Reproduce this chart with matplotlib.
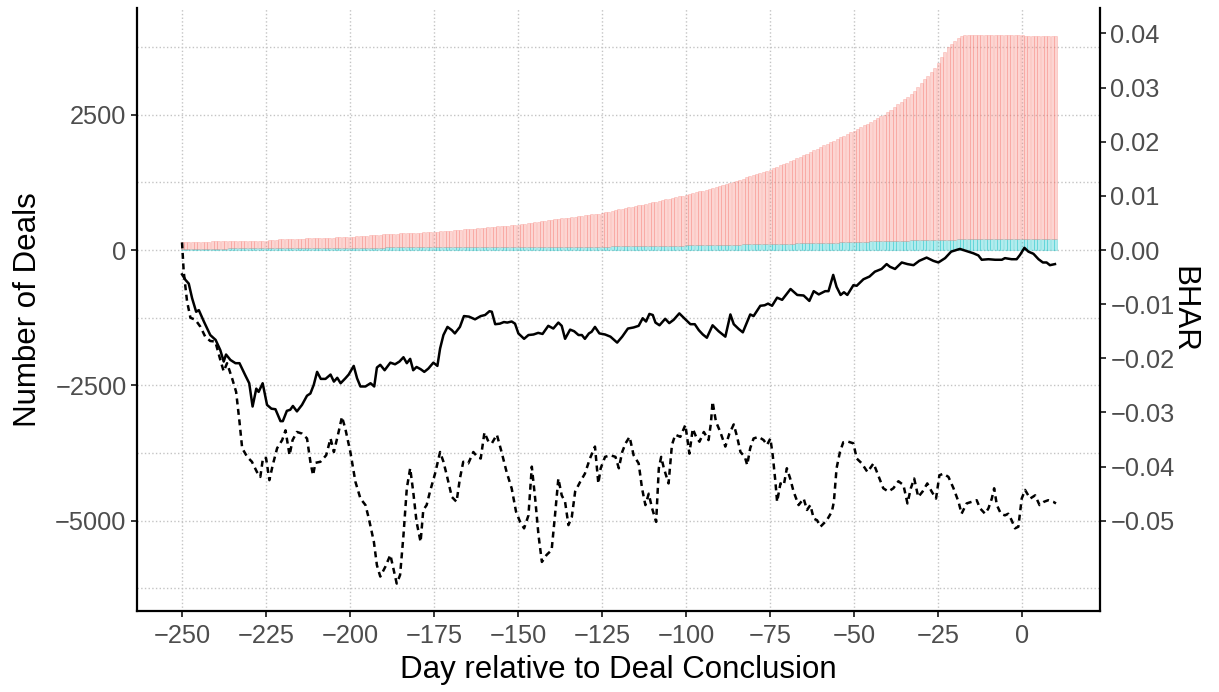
import matplotlib
matplotlib.use('Agg')
import matplotlib.pyplot as plt
from matplotlib.ticker import FuncFormatter, MultipleLocator

plt.rcParams['font.family'] = ['Liberation Sans', 'DejaVu Sans']

# days relative to deal conclusion (one bar per day)
days = list(range(-250, 11))

# total number of deals per day (top of the stacked bars)
deals_total = [
    145, 146, 148, 149, 151, 152, 154, 155, 157, 158,
    160, 161, 163, 164, 166, 167, 169, 170, 172, 173,
    173, 174, 174, 175, 175, 175, 180, 185, 190, 195,
    198, 201, 203, 205, 207, 210, 212, 214, 217, 219,
    221, 223, 225, 227, 229, 231, 233, 235, 237, 238,
    240, 245, 250, 254, 259, 264, 268, 273, 278, 282,
    287, 292, 296, 299, 302, 305, 308, 310, 313, 316,
    318, 321, 324, 327, 330, 333, 338, 343, 348, 353,
    358, 363, 369, 374, 379, 384, 389, 394, 400, 406,
    411, 417, 423, 429, 435, 440, 446, 452, 458, 463,
    469, 478, 486, 495, 504, 512, 521, 530, 538, 547,
    556, 565, 573, 582, 590, 598, 607, 615, 623, 631,
    640, 648, 657, 665, 674, 685, 698, 710, 723, 736,
    749, 762, 775, 788, 799, 813, 826, 840, 853, 867,
    880, 894, 908, 922, 935, 949, 963, 977, 990, 1005,
    1019, 1034, 1050, 1066, 1081, 1097, 1113, 1128, 1144, 1160,
    1180, 1200, 1220, 1240, 1260, 1280, 1300, 1320, 1340, 1360,
    1380, 1400, 1420, 1440, 1460, 1481, 1508, 1535, 1562, 1589,
    1616, 1643, 1670, 1697, 1724, 1751, 1778, 1808, 1839, 1869,
    1900, 1930, 1961, 1991, 2022, 2052, 2083, 2113, 2143, 2174,
    2204, 2237, 2270, 2303, 2336, 2369, 2401, 2434, 2467, 2500,
    2547, 2594, 2641, 2688, 2735, 2782, 2829, 2876, 2940, 3010,
    3080, 3150, 3220, 3290, 3360, 3457, 3556, 3655, 3753, 3810,
    3866, 3920, 3945, 3963, 3963, 3963, 3963, 3963, 3963, 3963,
    3963, 3963, 3963, 3963, 3963, 3963, 3963, 3963, 3963, 3963,
    3963,
    3944, 3944, 3944, 3944, 3944, 3944, 3944, 3944, 3944, 3944,
]

# second group (cyan, bottom of the stack)
deals_cyan = [
    20, 20, 20, 20, 20, 20, 20, 20, 20, 20,
    20, 20, 20, 20, 42, 42, 42, 42, 42, 42,
    42, 42, 42, 42, 42, 42, 42, 42, 42, 42,
    42, 42, 42, 42, 42, 42, 42, 42, 42, 42,
    42, 42, 42, 42, 42, 42, 42, 42, 42, 42,
    42, 42, 42, 42, 42, 42, 42, 42, 42, 42,
    42, 48, 48, 48, 48, 48, 48, 48, 48, 48,
    48, 48, 48, 48, 48, 48, 48, 48, 48, 48,
    48, 48, 48, 48, 48, 48, 48, 48, 48, 48,
    48, 55, 55, 55, 55, 55, 55, 55, 55, 55,
    55, 55, 55, 55, 55, 55, 55, 55, 55, 55,
    55, 55, 55, 55, 55, 55, 55, 55, 55, 55,
    55, 55, 55, 55, 55, 55, 55, 55, 74, 74,
    74, 74, 74, 74, 74, 74, 74, 74, 74, 74,
    74, 74, 74, 74, 74, 74, 74, 74, 74, 74,
    92, 92, 92, 92, 92, 92, 92, 92, 92, 92,
    92, 92, 92, 92, 92, 92, 92, 111, 111, 111,
    111, 111, 111, 111, 111, 111, 111, 111, 111, 111,
    111, 111, 111, 130, 130, 130, 130, 130, 130, 130,
    130, 130, 130, 130, 130, 130, 148, 148, 148, 148,
    148, 148, 148, 148, 148, 166, 166, 166, 166, 166,
    166, 166, 166, 166, 166, 166, 166, 185, 185, 185,
    185, 185, 185, 185, 185, 185, 185, 185, 185, 185,
    185, 204, 204, 204, 204, 204, 204, 204, 204, 204,
    204, 204, 204, 204, 204, 204, 204, 204, 204, 204,
    204, 204, 204, 204, 204, 204, 204, 204, 204, 204,
    204,
]

# BHAR, solid line
solid_day = [
    -250, -249, -248, -247, -245.8, -245, -243.5, -241.6, -240, -238.6,
    -237.6, -236.9, -235.6, -234.1, -232.9, -231.2, -230, -229, -227.9, -227.2,
    -226, -224.7, -223.4, -222.2, -220.7, -220, -218.8, -217.8, -217, -215.8,
    -214.3, -212.8, -211.8, -210.8, -209.8, -208.7, -207.3, -205.8, -204.8, -203.8,
    -202.8, -201.4, -200.4, -198.9, -197.9, -196.9, -195.4, -193.9, -192.8, -192,
    -191, -189.7, -188, -186.6, -185.3, -184.1, -183.1, -182.1, -181.2, -180.2,
    -179, -177.9, -176.7, -175.2, -174, -173.2, -172.2, -171, -169.7, -168.8,
    -167.3, -166.1, -164.6, -162.8, -161.1, -159.8, -158.5, -157.8, -156.8, -155.4,
    -154.2, -153.2, -151.9, -150.9, -149.9, -148.2, -146.9, -145.4, -144, -142.7,
    -141, -139.5, -138, -137, -136, -134.5, -133.3, -132, -131, -130.1,
    -128.9, -128.1, -127.1, -125.8, -124.1, -122.5, -120.5, -119, -117.3, -115.6,
    -114.1, -112.9, -111.9, -110.9, -109.9, -109.1, -107.9, -106.2, -105, -103.7,
    -102, -100.7, -98.7, -97.4, -96.2, -95, -93.8, -92.1, -90.3, -88.3,
    -86.8, -85.8, -84.3, -83.1, -80.9, -79.9, -77.9, -76.6, -75.6, -74.4,
    -72.9, -71.4, -68.9, -66.9, -65, -63.3, -62, -60.5, -58.6, -57.6,
    -56.2, -55.2, -54, -53, -52, -50.2, -49.2, -47.2, -45.4, -43.8,
    -41.8, -40.3, -39.3, -37.8, -35.8, -34.1, -32.3, -30.6, -28.4, -26.4,
    -24.9, -22.9, -21.1, -18.5, -16.5, -14.5, -13, -12, -10, -8,
    -6, -5.1, -3.1, -1.6, -0.6, 0.7, 1.9, 3.4, 4.9, 6.2,
    7.3, 8.3, 9.8,
]
solid_bhar = [
    -0.0045, -0.0055, -0.0062, -0.0089, -0.0114, -0.0111, -0.0132, -0.0157, -0.0166, -0.0185,
    -0.0206, -0.0193, -0.0203, -0.0209, -0.0209, -0.0231, -0.0246, -0.0289, -0.0256, -0.0262,
    -0.0246, -0.0286, -0.0293, -0.0294, -0.0316, -0.0316, -0.0297, -0.0295, -0.0288, -0.0298,
    -0.0286, -0.0269, -0.0265, -0.0249, -0.0225, -0.0238, -0.0238, -0.0230, -0.0243, -0.0236,
    -0.0246, -0.0237, -0.0230, -0.0214, -0.0237, -0.0252, -0.0252, -0.0246, -0.0252, -0.0217,
    -0.0212, -0.0222, -0.0208, -0.0211, -0.0206, -0.0198, -0.0209, -0.0201, -0.0222, -0.0216,
    -0.0220, -0.0225, -0.0219, -0.0208, -0.0214, -0.0182, -0.0157, -0.0142, -0.0148, -0.0154,
    -0.0142, -0.0122, -0.0123, -0.0128, -0.0122, -0.0120, -0.0113, -0.0114, -0.0137, -0.0136,
    -0.0133, -0.0134, -0.0132, -0.0136, -0.0154, -0.0164, -0.0157, -0.0156, -0.0153, -0.0155,
    -0.0140, -0.0145, -0.0134, -0.0140, -0.0164, -0.0147, -0.0150, -0.0157, -0.0157, -0.0164,
    -0.0154, -0.0151, -0.0142, -0.0154, -0.0156, -0.0160, -0.0171, -0.0160, -0.0145, -0.0143,
    -0.0140, -0.0126, -0.0132, -0.0118, -0.0120, -0.0134, -0.0139, -0.0127, -0.0135, -0.0129,
    -0.0117, -0.0125, -0.0137, -0.0137, -0.0148, -0.0156, -0.0162, -0.0139, -0.0150, -0.0160,
    -0.0119, -0.0137, -0.0146, -0.0152, -0.0119, -0.0122, -0.0103, -0.0102, -0.0099, -0.0103,
    -0.0088, -0.0092, -0.0072, -0.0083, -0.0084, -0.0094, -0.0076, -0.0082, -0.0076, -0.0076,
    -0.0046, -0.0068, -0.0083, -0.0078, -0.0083, -0.0065, -0.0066, -0.0054, -0.0049, -0.0040,
    -0.0035, -0.0026, -0.0031, -0.0035, -0.0023, -0.0026, -0.0028, -0.0020, -0.0014, -0.0020,
    -0.0023, -0.0015, -0.0003, 0.0002, -0.0002, -0.0006, -0.0010, -0.0018, -0.0017, -0.0018,
    -0.0018, -0.0015, -0.0017, -0.0017, -0.0009, 0.0004, -0.0003, -0.0007, -0.0017, -0.0023,
    -0.0023, -0.0028, -0.0026,
]

# BHAR, dashed line
dash_day = [
    -250, -249.5, -248.5, -247.5, -246, -244.5, -243.1, -241.6, -240.1, -238.6,
    -237.6, -236.6, -235.1, -233.9, -232.9, -232.1, -230.6, -229.2, -227.7, -226.7,
    -225.9, -225, -224, -223, -221.7, -220.2, -219.2, -218, -217.1, -215.8,
    -214.3, -212.8, -211.8, -211, -210.3, -208.8, -207.1, -205.8, -204.8, -203.4,
    -202.4, -201.4, -199.9, -198.4, -196.9, -195.4, -194.4, -192.9, -192, -191,
    -189.5, -188, -187.1, -186.1, -185.1, -184.1, -183.1, -182.1, -181.2, -180.2,
    -179, -178.2, -177.2, -176.2, -174.7, -173.2, -172.2, -171.2, -169.7, -168.3,
    -167.3, -166.3, -164.8, -163.3, -162.1, -161.1, -160, -158.8, -157.8, -156.3,
    -154.9, -153.4, -151.9, -150.6, -149.4, -148.2, -146.9, -145.9, -144.9, -143.9,
    -142.9, -141.5, -140, -139, -138, -137, -136, -135, -134, -133,
    -131.5, -130.1, -128.6, -127.1, -126.1, -125.4, -124.1, -122.5, -121, -120,
    -119, -118, -116.8, -115.6, -114.1, -113.1, -112.1, -111.1, -110.1, -108.9,
    -108.1, -107.4, -106.6, -105.2, -104.2, -103.2, -101.7, -100.2, -99, -98,
    -97, -96, -94.7, -93.3, -92.6, -92.1, -91.1, -89.8, -88.3, -87.1,
    -85.8, -84.8, -83.8, -82.5, -81.8, -80.9, -79.9, -78.4, -76.9, -75.9,
    -74.9, -74.2, -73.4, -72.9, -71.9, -70.9, -70, -69, -68, -66.5,
    -65, -64, -63, -62, -61, -60, -58.1, -56.6, -56, -55.2,
    -54.2, -53.2, -51.7, -50.2, -49.2, -47.7, -46, -44.2, -42.8, -41.3,
    -39.8, -38.3, -36.8, -35.3, -34.1, -33.1, -32.1, -30.9, -29.6, -28.2,
    -26.9, -25.6, -24.6, -23.4, -21.9, -20.4, -18.9, -18, -16.5, -15,
    -13.5, -12.5, -11, -10, -9, -8.3, -7.5, -6.3, -5.1, -4.1,
    -3.1, -2.1, -1.1, -0.1, 0.9, 2.4, 3.9, 5.2, 6.5, 7.8,
    9.3, 10.1,
]
dash_bhar = [
    0.0014, -0.0040, -0.0095, -0.0125, -0.0129, -0.0142, -0.0160, -0.0168, -0.0169, -0.0203,
    -0.0224, -0.0209, -0.0237, -0.0262, -0.0317, -0.0366, -0.0382, -0.0391, -0.0410, -0.0419,
    -0.0384, -0.0384, -0.0425, -0.0397, -0.0366, -0.0351, -0.0333, -0.0379, -0.0351, -0.0336,
    -0.0339, -0.0348, -0.0391, -0.0416, -0.0393, -0.0391, -0.0379, -0.0348, -0.0373, -0.0336,
    -0.0308, -0.0330, -0.0373, -0.0428, -0.0459, -0.0471, -0.0496, -0.0539, -0.0582, -0.0603,
    -0.0585, -0.0563, -0.0588, -0.0616, -0.0600, -0.0527, -0.0440, -0.0403, -0.0446, -0.0502,
    -0.0539, -0.0480, -0.0471, -0.0446, -0.0413, -0.0373, -0.0391, -0.0416, -0.0456, -0.0465,
    -0.0422, -0.0391, -0.0394, -0.0373, -0.0382, -0.0385, -0.0337, -0.0354, -0.0357, -0.0341,
    -0.0373, -0.0410, -0.0440, -0.0483, -0.0502, -0.0514, -0.0490, -0.0400, -0.0459, -0.0527,
    -0.0576, -0.0563, -0.0554, -0.0490, -0.0422, -0.0453, -0.0465, -0.0508, -0.0493, -0.0446,
    -0.0428, -0.0413, -0.0385, -0.0363, -0.0431, -0.0403, -0.0382, -0.0379, -0.0382, -0.0403,
    -0.0373, -0.0357, -0.0345, -0.0379, -0.0394, -0.0440, -0.0471, -0.0450, -0.0477, -0.0502,
    -0.0403, -0.0382, -0.0403, -0.0431, -0.0360, -0.0341, -0.0345, -0.0323, -0.0376, -0.0330,
    -0.0345, -0.0354, -0.0336, -0.0351, -0.0320, -0.0280, -0.0317, -0.0336, -0.0363, -0.0339,
    -0.0322, -0.0345, -0.0373, -0.0382, -0.0397, -0.0366, -0.0348, -0.0345, -0.0351, -0.0360,
    -0.0348, -0.0379, -0.0428, -0.0465, -0.0431, -0.0434, -0.0403, -0.0422, -0.0446, -0.0471,
    -0.0459, -0.0480, -0.0471, -0.0496, -0.0499, -0.0511, -0.0499, -0.0483, -0.0465, -0.0403,
    -0.0373, -0.0355, -0.0354, -0.0357, -0.0385, -0.0394, -0.0410, -0.0394, -0.0416, -0.0440,
    -0.0446, -0.0440, -0.0427, -0.0434, -0.0468, -0.0440, -0.0422, -0.0456, -0.0446, -0.0431,
    -0.0446, -0.0459, -0.0416, -0.0413, -0.0419, -0.0440, -0.0465, -0.0487, -0.0468, -0.0465,
    -0.0462, -0.0477, -0.0487, -0.0477, -0.0459, -0.0440, -0.0471, -0.0487, -0.0490, -0.0487,
    -0.0499, -0.0514, -0.0511, -0.0459, -0.0443, -0.0459, -0.0453, -0.0471, -0.0465, -0.0462,
    -0.0465, -0.0468,
]

x_ticks = list(range(-250, 1, 25))
deal_ticks = [-5000, -2500, 0, 2500]
bhar_ticks = [-0.05, -0.04, -0.03, -0.02, -0.01, 0.0, 0.01, 0.02, 0.03, 0.04]

tick_col = '#4D4D4D'
grid_col = '#C4C4C4'

fig = plt.figure(figsize=(12.19, 6.92), dpi=100)
ax = fig.add_axes([137 / 1219, 1 - 611 / 692, (1100 - 137) / 1219, (611 - 8) / 692])

ylo, yhi = -6666, 4469
ax.set_xlim(-263.4, 23.2)
ax.set_ylim(ylo, yhi)

# grid: x at major ticks, y at 1250 steps (major + minor)
ax.set_xticks(x_ticks)
ax.set_yticks(deal_ticks)
ax.yaxis.set_minor_locator(MultipleLocator(1250))
ax.grid(True, axis='x', which='major', linestyle=':', color=grid_col, linewidth=1.0)
ax.grid(True, axis='y', which='both', linestyle=':', color=grid_col, linewidth=1.0)
ax.set_axisbelow(True)

pink_height = [t - c for t, c in zip(deals_total, deals_cyan)]
ax.bar(days, deals_cyan, width=0.9, color=(0, 0.749, 0.769, 0.3),
       edgecolor=(0, 0.749, 0.769, 0.3), linewidth=0.6)
ax.bar(days, pink_height, bottom=deals_cyan, width=0.9, color=(0.973, 0.463, 0.427, 0.3),
       edgecolor=(0.973, 0.463, 0.427, 0.3), linewidth=0.6)

ax2 = ax.twinx()
ax2.set_ylim(ylo / 1e5, yhi / 1e5)
ax2.plot(solid_day, solid_bhar, color='black', linewidth=1.8)
ax2.plot(dash_day, dash_bhar, color='black', linewidth=1.8, dashes=(2.4, 1.8))
ax2.set_yticks(bhar_ticks)
ax2.yaxis.set_major_formatter(FuncFormatter(lambda v, p: ('%.2f' % v).replace('-', '\u2212')))

for a in (ax, ax2):
    a.spines['top'].set_visible(False)
    a.tick_params(which='major', length=4.5, width=1.1, color='black',
                  labelcolor=tick_col, labelsize=18.3, pad=3)
    a.tick_params(which='minor', length=0)
ax.tick_params(axis='x', pad=5)
ax.spines['right'].set_visible(False)
ax2.spines['left'].set_visible(False)
ax2.spines['bottom'].set_visible(False)
ax.spines['left'].set_linewidth(1.6)
ax.spines['bottom'].set_linewidth(1.6)
ax2.spines['right'].set_linewidth(1.6)

ax.set_xlabel('Day relative to Deal Conclusion', fontsize=22.5, labelpad=5)
ax.set_ylabel('Number of Deals', fontsize=22.5, labelpad=9)
ax2.set_ylabel('BHAR', fontsize=22.5, rotation=-90, labelpad=17)

fig.savefig('out.png', dpi=100)
plt.close(fig)
